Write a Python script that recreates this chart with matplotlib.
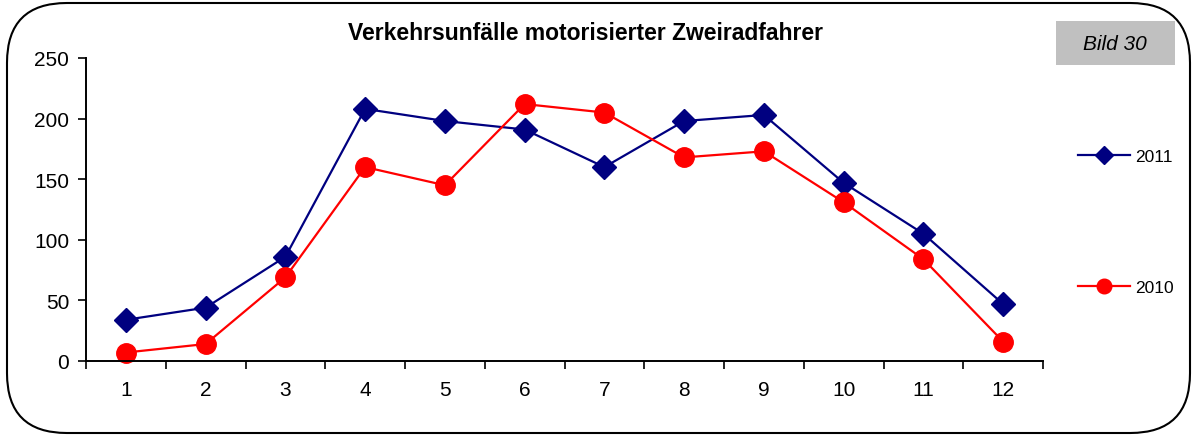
import numpy as np
import matplotlib.pyplot as plt
from matplotlib.patches import FancyBboxPatch, Rectangle

plt.rcParams['font.family'] = ['Liberation Sans', 'DejaVu Sans']

# data
months = [1, 2, 3, 4, 5, 6, 7, 8, 9, 10, 11, 12]
unf_2011 = [34, 44, 86, 208, 198, 191, 160, 198, 203, 147, 105, 47]
unf_2010 = [7, 14, 69, 160, 145, 212, 205, 168, 173, 131, 84, 16]

W, H = 1195, 439
fig = plt.figure(figsize=(W / 100, H / 100), dpi=100)

# rounded outer frame
frame = FancyBboxPatch((7 / W, 5 / H), 1183 / W, 430 / H,
                       boxstyle='round,pad=0,rounding_size=0.05',
                       transform=fig.transFigure, fill=False,
                       edgecolor='black', linewidth=1.5, mutation_aspect=W / H)
fig.patches.append(frame)

ax = fig.add_axes([86 / W, 77 / H, (1043 - 86) / W, (362 - 59) / H])
x = np.arange(len(months))
ax.plot(x, unf_2011, color='#000080', marker='D', markersize=12, linewidth=1.6,
        label='2011', clip_on=False)
ax.plot(x, unf_2010, color='#ff0000', marker='o', markersize=14, linewidth=1.6,
        label='2010', clip_on=False)

ax.set_xlim(-0.5, len(months) - 0.5)
ax.set_ylim(0, 250)
ax.set_yticks(np.arange(0, 251, 50))
ax.set_xticks(x)
ax.set_xticklabels(months)
ax.set_xticks(np.arange(-0.5, len(months), 1), minor=True)
ax.tick_params(axis='x', which='major', length=0, pad=14, labelsize=15)
ax.tick_params(axis='x', which='minor', length=6, width=1.2, direction='out')
ax.tick_params(axis='y', length=6, width=1.2, direction='out', labelsize=15, pad=6)
for s in ['top', 'right']:
    ax.spines[s].set_visible(False)
for s in ['left', 'bottom']:
    ax.spines[s].set_linewidth(1.4)

fig.text(585 / W, 1 - 33 / H, 'Verkehrsunfälle motorisierter Zweiradfahrer',
         ha='center', va='center', fontsize=16.5, fontweight='bold')

# "Bild 30" box
fig.patches.append(Rectangle((1056 / W, 1 - 66 / H), 119 / W, 44 / H,
                             transform=fig.transFigure, facecolor='#c0c0c0',
                             edgecolor='none'))
fig.text(1115 / W, 1 - 44 / H, 'Bild 30', ha='center', va='center',
         fontsize=15, style='italic')

ax.legend(loc='upper left', bbox_to_anchor=(1062 / W, 1 - 134 / H),
          bbox_transform=fig.transFigure, frameon=False, fontsize=12.5,
          labelspacing=6.7, handlelength=3.0, handletextpad=0.3, markerscale=0.75)

fig.savefig('out.png', dpi=100)
